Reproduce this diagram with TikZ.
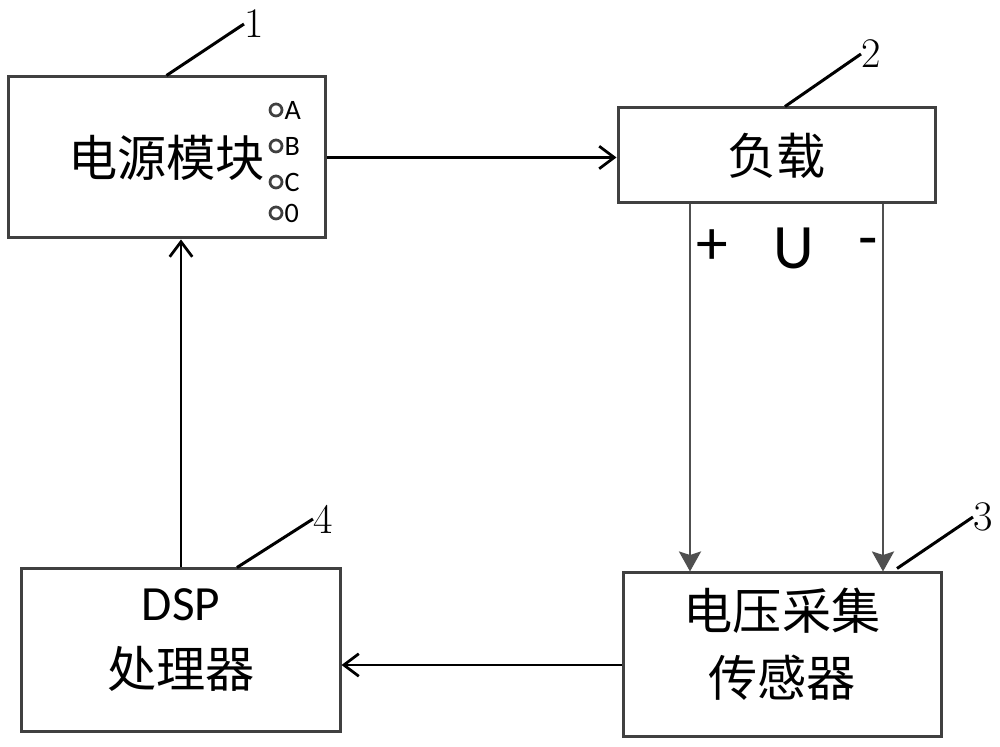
\documentclass[tikz,border=0pt]{standalone}
\usepackage{fontspec}
\newfontfamily\cjk{Noto Sans CJK SC}
\newfontfamily\lab{Carlito}
\usetikzlibrary{arrows.meta,calc}
\definecolor{boxgray}{RGB}{64,64,64}
\definecolor{wiregray}{RGB}{80,80,80}
\tikzset{
	blok/.style={draw=boxgray, line width=0.06cm, minimum width=6.34cm, inner sep=0pt, align=center, font=\cjk\fontsize{28}{38}\selectfont},
	leader/.style={line width=0.06cm},
	num/.style={inner sep=0pt, font=\fontsize{24}{24}\selectfont},
	pin/.style={circle, draw=boxgray, line width=0.055cm, minimum size=0.24cm, inner sep=0pt},
	pinlab/.style={anchor=west, inner sep=0pt, xshift=0.02cm, font=\lab\fontsize{16}{16}\selectfont},
	sign/.style={inner sep=0pt, font=\lab\fontsize{36}{36}\selectfont},
	flow/.style={-{Straight Barb[length=0.3cm,width=0.45cm]}, line width=0.055cm},
	wire/.style={-{Stealth[length=0.4cm,width=0.44cm,inset=0.07cm]}, line width=0.055cm, wiregray},
}
\begin{document}
\begin{tikzpicture}
	\useasboundingbox (0,0) rectangle (20,14.92);
	\begin{scope}
		\node[blok, minimum height=3.22cm] (psu) at (3.33,11.77) {电源模块};
		\node[blok, minimum height=1.9cm] (load) at (15.53,11.81) {负载};
		\node[blok, minimum width=6.36cm, minimum height=3.28cm, text depth=0.5cm] (sensor) at (15.64,1.82) {电压采集\\传感器};
		\node[blok, minimum width=6.36cm, minimum height=3.26cm, text depth=0.5cm] (dsp) at (3.62,1.91) {{\lab DSP}\\处理器};
	\end{scope}
	\begin{scope}
		\node[pin] (pinA) at (5.52,12.72) {};
		\node[pinlab] (labA) at (pinA.east) {A};
		\node[pin] (pinB) at (5.52,12.0) {};
		\node[pinlab] (labB) at (pinB.east) {B};
		\node[pin] (pinC) at (5.52,11.28) {};
		\node[pinlab] (labC) at (pinC.east) {C};
		\node[pin] (pinO) at (5.52,10.66) {};
		\node[pinlab] (labO) at (pinO.east) {0};
	\end{scope}
	\begin{scope}
		\coordinate (plus) at (13.8,11.81);
		\coordinate (minus) at (17.66,11.81);
		\coordinate (back) at (0,1.62);
		\draw[flow] (psu.east) -- (psu.east -| load.west);
		\draw[wire] (plus |- load.south) -- (plus |- sensor.north);
		\draw[wire] (minus |- load.south) -- (minus |- sensor.north);
		\draw[flow] (sensor.west |- back) -- (dsp.east |- back);
		\draw[flow] (dsp.north) -- (dsp.north |- psu.south);
		\node[sign] (pos) at (14.24,9.98) {+};
		\node[sign] (volt) at (15.88,9.96) {U};
		\node[sign] (neg) at (17.36,9.96) {-};
	\end{scope}
	\begin{scope}
		\node[num] (n1) at (5.08,14.44) {1};
		\node[num] (n2) at (17.42,13.84) {2};
		\node[num] (n3) at (19.66,4.58) {3};
		\node[num] (n4) at (6.46,4.54) {4};
		\draw[leader] (psu.north) -- (n1.west);
		\draw[leader] ($(load.north)+(0.17,0)$) -- (n2.west);
		\draw[leader] ($(sensor.north)+(2.3,0.06)$) -- (n3.west);
		\draw[leader] ($(dsp.north)+(1.12,0)$) -- (n4.west);
	\end{scope}
\end{tikzpicture}
\end{document}
